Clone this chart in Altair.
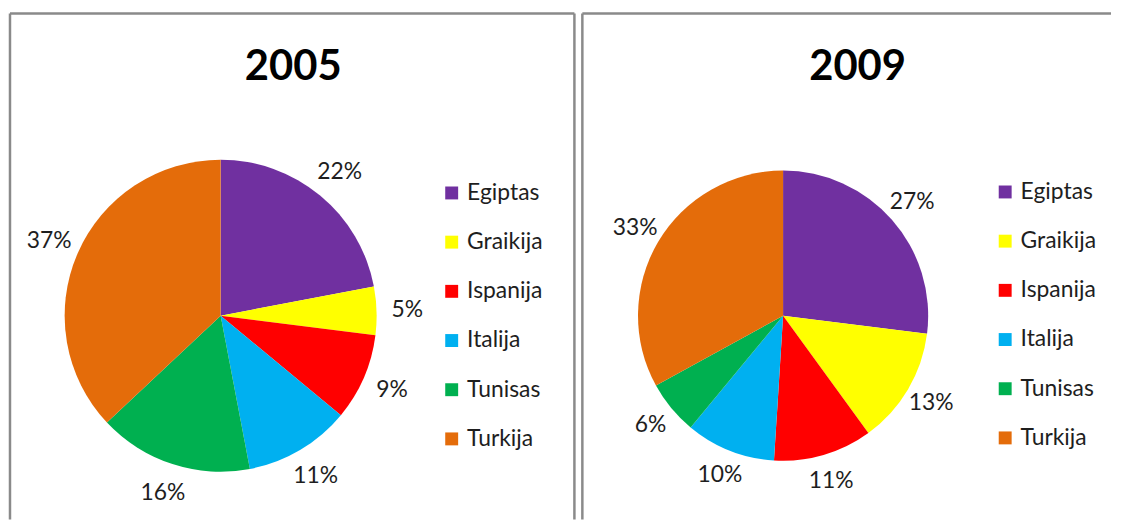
import altair as alt
import pandas as pd

years = ["2005", "2009"]
countries = ["Egiptas", "Graikija", "Ispanija", "Italija", "Tunisas", "Turkija"]
share_2005 = [22, 5, 9, 11, 16, 37]
share_2009 = [27, 13, 11, 10, 6, 33]
colors = ["#7030A0", "#FFFF00", "#FF0000", "#00B0F0", "#00B050", "#E46C0A"]

FONT = "Lato"
TXT = "#1e1e1e"
BORDER = "#8a8a8a"
H = 509


def panel(year, values, width, title_x, cx, cy, r, label_r, legend_x, legend_y, right_border):
    df = pd.DataFrame({
        "country": countries,
        "value": values,
        "idx": list(range(len(countries))),
        "label": [f"{v}%" for v in values],
    })
    base = alt.Chart(df)
    color = alt.Color(
        "country:N",
        scale=alt.Scale(domain=countries, range=colors),
        sort=countries,
        legend=alt.Legend(
            title=None,
            orient="none",
            legendX=legend_x,
            legendY=legend_y,
            symbolType="square",
            symbolSize=169,
            symbolStrokeWidth=0,
            symbolOpacity=1,
            labelFont=FONT,
            labelFontSize=23,
            labelColor=TXT,
            labelOffset=4,
            rowPadding=25.5,
            padding=0,
            labelExpr="datum.label == 'Italija' ? '\u00a0Italija' : datum.label",
        ),
    )
    theta = alt.Theta("value:Q", stack=True)
    order = alt.Order("idx:Q", sort="ascending")
    arcs = base.mark_arc(outerRadius=r).encode(
        theta=theta, color=color, order=order,
        x=alt.value(cx), y=alt.value(cy),
    )
    labels = base.mark_text(
        radius=label_r, font=FONT, fontSize=23, color=TXT
    ).encode(
        theta=theta, order=order, text="label:N",
        x=alt.value(cx), y=alt.value(cy),
    )
    one = pd.DataFrame({"t": [year]})
    title = alt.Chart(one).mark_text(
        font=FONT, fontSize=42, fontWeight="bold", color="#000",
        baseline="alphabetic", align="center",
    ).encode(text="t:N", x=alt.value(title_x), y=alt.value(67))
    border_left = alt.Chart(one).mark_rule(color=BORDER, strokeWidth=2.5).encode(
        x=alt.value(0), y=alt.value(0), y2=alt.value(H))
    border_top = alt.Chart(one).mark_rule(color=BORDER, strokeWidth=2.5).encode(
        x=alt.value(0), x2=alt.value(width), y=alt.value(0))
    layers = [arcs, labels, title, border_left, border_top]
    if right_border:
        layers.append(alt.Chart(one).mark_rule(color=BORDER, strokeWidth=2.5).encode(
            x=alt.value(width), y=alt.value(0), y2=alt.value(H)))
    return alt.layer(*layers).properties(width=width, height=H)


left = panel(years[0], share_2005, 568, 285, 212, 304, 157, 188, 433, 169, True)
right = panel(years[1], share_2009, 532, 277, 202, 304, 146, 173, 414, 168, False)

chart = (
    alt.hconcat(left, right, spacing=4)
    .resolve_scale(color="independent", theta="independent")
    .resolve_legend(color="independent")
    .properties(padding={"left": 0, "top": 2, "right": 0, "bottom": 0})
    .configure(background="white")
    .configure_view(stroke=None)
)

chart.save("out.html", embed_options={"renderer": "svg", "actions": False})
